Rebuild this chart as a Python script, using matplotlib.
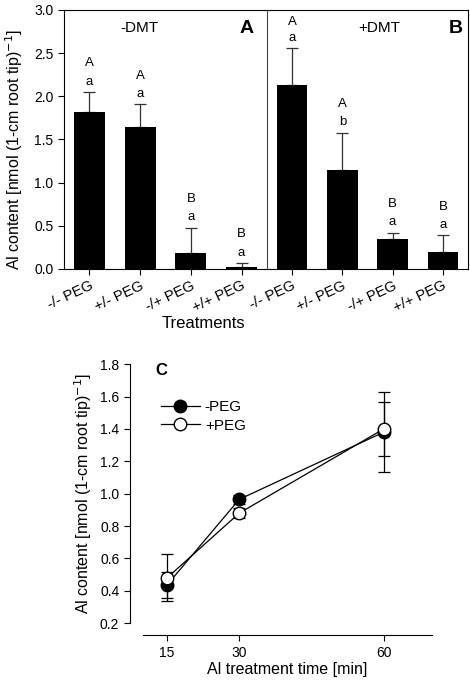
import numpy as np
import matplotlib
matplotlib.use('Agg')
import matplotlib.pyplot as plt

plt.rcParams['font.family'] = ['Liberation Sans', 'DejaVu Sans']

# Panel A / B data
treatments = ['-/- PEG', '+/- PEG', '-/+ PEG', '+/+ PEG']
minus_dmt = [1.82, 1.65, 0.18, 0.02]
minus_dmt_err = [0.23, 0.26, 0.30, 0.05]
minus_dmt_upper = ['A', 'A', 'B', 'B']
minus_dmt_lower = ['a', 'a', 'a', 'a']
plus_dmt = [2.13, 1.15, 0.345, 0.20]
plus_dmt_err = [0.43, 0.43, 0.075, 0.19]
plus_dmt_upper = ['A', 'A', 'B', 'B']
plus_dmt_lower = ['a', 'b', 'a', 'a']

# Panel C data
times = [15, 30, 60]
no_peg = [0.436, 0.965, 1.38]
no_peg_err = [0.08, 0.03, 0.245]
with_peg = [0.48, 0.88, 1.40]
with_peg_err = [0.145, 0.03, 0.165]

fig = plt.figure(figsize=(4.7, 6.82), dpi=100)

axA = fig.add_axes([0.136, 0.6056, 0.432, 0.3798])
axB = fig.add_axes([0.568, 0.6056, 0.4277, 0.3798])
axB.patch.set_visible(False)


def draw_bars(ax, vals, errs, upper, lower):
    x = np.arange(len(vals))
    ax.bar(x, vals, width=0.61, color='black', zorder=2)
    ax.errorbar(x, vals, yerr=[np.zeros(len(vals)), errs], fmt='none',
                ecolor='#333333', elinewidth=0.9, capsize=4, capthick=0.9, zorder=1)
    for xi, v, e, up, lo in zip(x, vals, errs, upper, lower):
        top = v + e
        y_up = min(top + 0.33, 2.86)
        y_lo = min(top + 0.12, y_up - 0.17)
        ax.text(xi, y_lo, lo, ha='center', va='center', fontsize=9.5)
        ax.text(xi, y_up, up, ha='center', va='center', fontsize=9.5)
    ax.set_xlim(-0.5, 3.5)
    ax.set_ylim(0, 3.0)
    ax.set_xticks(x)
    ax.set_xticklabels(treatments, rotation=25, ha='right', rotation_mode='anchor', fontsize=10.5)
    ax.tick_params(axis='x', direction='out', length=4, width=0.8, pad=3)
    for s in ax.spines.values():
        s.set_linewidth(0.8)


draw_bars(axA, minus_dmt, minus_dmt_err, minus_dmt_upper, minus_dmt_lower)
draw_bars(axB, plus_dmt, plus_dmt_err, plus_dmt_upper, plus_dmt_lower)

axA.set_yticks(np.arange(0, 3.01, 0.5))
axA.set_yticklabels(['%.1f' % v for v in np.arange(0, 3.01, 0.5)], fontsize=10)
axA.tick_params(axis='y', direction='out', length=4, width=0.8)
axA.set_ylabel('Al content [nmol (1-cm root tip)$^{-1}$]', fontsize=11.5, labelpad=3)
axA.yaxis.set_label_coords(-0.19, 0.46)
axB.tick_params(axis='y', left=False, labelleft=False)
axA.spines['right'].set_color('#444444')
axB.spines['left'].set_visible(False)

axA.text(0.37, 0.93, '-DMT', transform=axA.transAxes, ha='center', va='center', fontsize=11)
axA.text(0.90, 0.93, 'A', transform=axA.transAxes, ha='center', va='center',
         fontsize=14, fontweight='bold')
axB.text(0.56, 0.93, '+DMT', transform=axB.transAxes, ha='center', va='center', fontsize=11)
axB.text(0.94, 0.93, 'B', transform=axB.transAxes, ha='center', va='center',
         fontsize=14, fontweight='bold')
fig.text(0.433, 0.526, 'Treatments', ha='center', va='center', fontsize=12)

# Panel C
axC = fig.add_axes([0.304, 0.0861, 0.615, 0.380])
axC.errorbar(times, no_peg, yerr=no_peg_err, fmt='none', ecolor='black',
             elinewidth=0.9, capsize=4, capthick=0.9, zorder=1)
axC.errorbar(times, with_peg, yerr=with_peg_err, fmt='none', ecolor='black',
             elinewidth=0.9, capsize=4, capthick=0.9, zorder=1)
axC.plot(times, no_peg, color='black', lw=0.9, marker='o', ms=9,
         mfc='black', mec='black', label='-PEG', zorder=2)
axC.plot(times, with_peg, color='black', lw=0.9, marker='o', ms=9,
         mfc='white', mec='black', label='+PEG', zorder=3)
axC.set_xlim(10, 70)
axC.set_ylim(0.2, 1.8)
axC.set_xticks(times)
axC.set_yticks(np.arange(0.2, 1.81, 0.2))
axC.set_yticklabels(['%.1f' % v for v in np.arange(0.2, 1.81, 0.2)], fontsize=9)
axC.set_xticklabels([str(t) for t in times], fontsize=9)
axC.spines['top'].set_visible(False)
axC.spines['right'].set_visible(False)
axC.spines['left'].set_position(('outward', 9.5))
axC.spines['bottom'].set_position(('outward', 8.5))
axC.spines['left'].set_linewidth(0.8)
axC.spines['bottom'].set_linewidth(0.8)
axC.tick_params(direction='out', length=4, width=0.8)
axC.set_ylabel('Al content [nmol (1-cm root tip)$^{-1}$]', fontsize=11.5, labelpad=4)
axC.set_xlabel('Al treatment time [min]', fontsize=11.5, labelpad=2)
axC.text(0.065, 0.975, 'C', transform=axC.transAxes, ha='center', va='center',
         fontsize=12, fontweight='bold')
leg = axC.legend(loc='upper left', bbox_to_anchor=(0.04, 0.885), frameon=False,
                 fontsize=11, handlelength=2.6, handletextpad=0.3, labelspacing=0.3,
                 borderaxespad=0)

fig.savefig('out.png', dpi=100)
